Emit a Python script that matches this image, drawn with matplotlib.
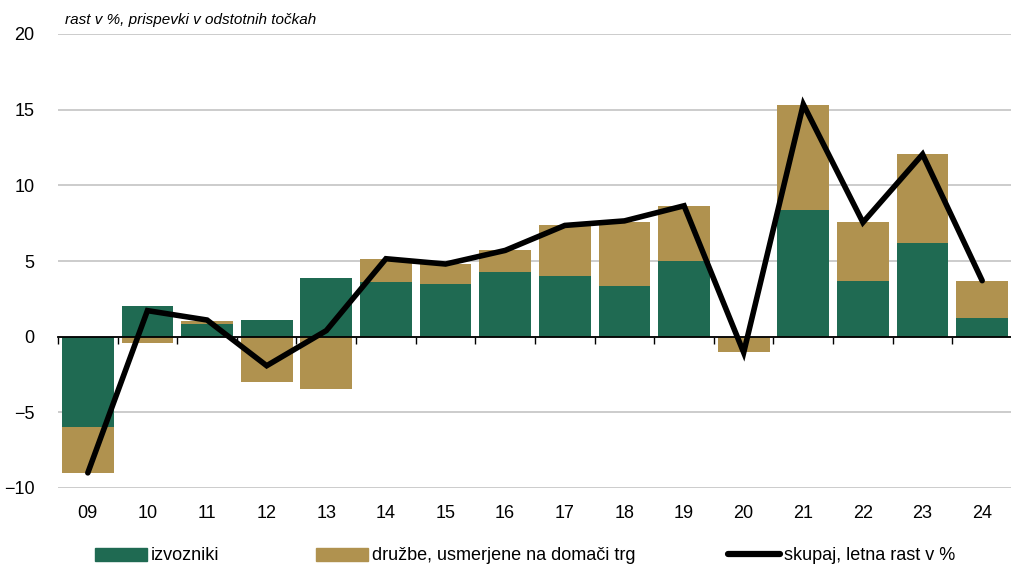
import numpy as np
import matplotlib
matplotlib.use('Agg')
import matplotlib.pyplot as plt
from matplotlib.patches import Patch
from matplotlib.lines import Line2D

plt.rcParams['font.family'] = ['Liberation Sans', 'DejaVu Sans']

years = ['09', '10', '11', '12', '13', '14', '15', '16', '17', '18', '19', '20', '21', '22', '23', '24']
izvozniki = [-5.96, 2.05, 0.86, 1.1, 3.9, 3.6, 3.45, 4.25, 4.0, 3.37, 4.97, 0.0, 8.34, 3.66, 6.18, 1.26]
domaci = [-3.04, -0.4, 0.2, -3.0, -3.45, 1.5, 1.35, 1.45, 3.4, 4.23, 3.66, -1.04, 6.96, 3.91, 5.87, 2.44]
skupaj = [-9.0, 1.72, 1.1, -1.92, 0.4, 5.15, 4.8, 5.7, 7.35, 7.65, 8.65, -1.05, 15.35, 7.55, 12.05, 3.7]

green = '#1F6A52'
tan = '#B0924F'

fig = plt.figure(figsize=(10.12, 5.66), dpi=100)
ax = fig.add_axes([58 / 1012, 1 - 488 / 566, 954 / 1012, 454 / 566])

x = np.arange(len(years))
izv = np.array(izvozniki)
dom = np.array(domaci)
# stack: positive parts go up, negative parts go down
dom_base = np.where((dom >= 0) & (izv >= 0), izv, np.where((dom < 0) & (izv < 0), izv, 0))

ax.bar(x, izv, width=0.87, color=green, zorder=2)
ax.bar(x, dom, width=0.87, bottom=dom_base, color=tan, zorder=2)
ax.plot(x, skupaj, color='black', lw=4, solid_capstyle='round', solid_joinstyle='miter', zorder=3)

ax.set_xlim(-0.5, len(x) - 0.5)
ax.set_ylim(-10, 20)
ax.set_yticks([-10, -5, 0, 5, 10, 15, 20])
ax.set_yticklabels(['\u221210', '\u22125', '0', '5', '10', '15', '20'], fontsize=13)
ax.tick_params(axis='y', length=0, pad=17)
ax.grid(axis='y', color='#C8C8C8', lw=1.3, zorder=0)
ax.set_axisbelow(True)

for s in ['top', 'right', 'left']:
    ax.spines[s].set_visible(False)
ax.spines['bottom'].set_position(('data', 0))
ax.spines['bottom'].set_linewidth(1.3)
ax.spines['bottom'].set_zorder(2.5)
ax.set_xticks(np.arange(len(x) + 1) - 0.5)
ax.set_xticklabels([])
ax.tick_params(axis='x', length=5, width=1, direction='out')

sec = ax.secondary_xaxis(0)
sec.set_xticks(x)
sec.set_xticklabels(years, fontsize=13)
sec.tick_params(length=0, pad=12)
sec.spines['bottom'].set_visible(False)

fig.text(65 / 1012, 1 - 20 / 566, 'rast v %, prispevki v odstotnih točkah',
         fontsize=11, style='italic', va='center', ha='left')

handles = [Patch(color=green, label='izvozniki'),
           Patch(color=tan, label='družbe, usmerjene na domači trg'),
           Line2D([0], [0], color='black', lw=4.5, solid_capstyle='round', label='skupaj, letna rast v %')]
xs = [95, 316, 728]
for h, xp in zip(handles, xs):
    fig.legend(handles=[h], loc='center left', bbox_to_anchor=(xp / 1012, 1 - 556 / 566),
               frameon=False, fontsize=13, handlelength=2.9, handleheight=0.75,
               handletextpad=0.2, borderpad=0, borderaxespad=0)

fig.savefig('out.png', dpi=100)
